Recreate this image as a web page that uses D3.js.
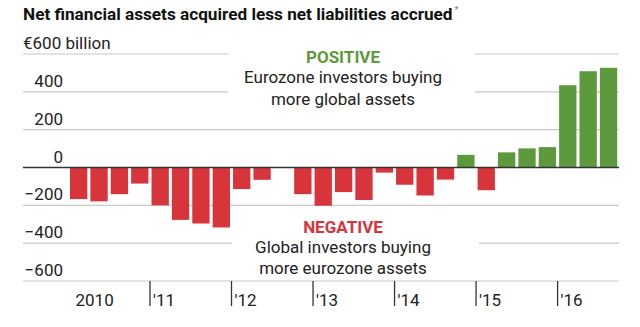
<!DOCTYPE html>
<html>
<head>
<meta charset="utf-8">
<script src="https://cdn.jsdelivr.net/npm/d3@7"></script>
<style>
  body { margin: 0; background: #fff; }
  #chart text { font-family: Roboto, "Open Sans", sans-serif; fill: #222; }
  #chart .title { font-family: "Liberation Sans Narrow", "Roboto", sans-serif; font-weight: bold; fill: #111; }
</style>
</head>
<body>
<div id="chart"></div>
<script>
// Quarterly net financial flows, € billion
const years = [2010, 2011, 2012, 2013, 2014, 2015, 2016];
const yearLabels = ["2010", "'11", "'12", "'13", "'14", "'15", "'16"];
const quarterValues = [
  -167, -179, -141, -85,   // 2010
  -200, -277, -296, -317,  // 2011
  -114, -65, 0, -141,      // 2012
  -202, -130, -172, -27,   // 2013
  -91, -148, -64, 67,      // 2014
  -120, 80, 101, 108,      // 2015
  435, 509, 527            // 2016
];
const yTicks = [600, 400, 200, 0, -200, -400, -600];

const quarters = quarterValues.map((v, i) => ({
  key: `${years[Math.floor(i / 4)]} Q${i % 4 + 1}`,
  year: years[Math.floor(i / 4)],
  q: i % 4 + 1,
  value: v
}));

const width = 640;
const height = 327;
const gridLeft = 23;
const gridRight = 619;

const red = "#d7343c";
const green = "#5c9a3d";

const svg = d3.select("#chart")
  .append("svg")
  .attr("width", width)
  .attr("height", height);

const x = d3.scaleBand()
  .domain(quarters.map(d => d.key))
  .range([70, 617.2])
  .paddingInner(0.15)
  .paddingOuter(0)
  .align(0);

const y = d3.scaleLinear()
  .domain([-600, 600])
  .range([281, 54]);

// Title with footnote marker right after it
const title = svg.append("text")
  .attr("class", "title")
  .attr("x", 23)
  .attr("y", 20)
  .style("font-size", "17.2px")
  .text("Net financial assets acquired less net liabilities accrued");
const titleEnd = 23 + title.node().getComputedTextLength();
svg.append("text")
  .attr("x", titleEnd + 2)
  .attr("y", 13)
  .style("font-size", "9px")
  .style("fill", "#777")
  .text("*");

// Gridlines
svg.append("g")
  .selectAll("line")
  .data(yTicks.filter(d => d !== 0))
  .join("line")
  .attr("x1", gridLeft)
  .attr("x2", gridRight)
  .attr("y1", d => y(d))
  .attr("y2", d => y(d))
  .attr("stroke", "#c8c8c8")
  .attr("stroke-width", 1.2);

// Y labels sit above their gridline
svg.append("g")
  .selectAll("text")
  .data(yTicks)
  .join("text")
  .attr("x", d => d === 600 ? gridLeft : 63)
  .attr("y", d => y(d) - 5)
  .attr("text-anchor", d => d === 600 ? "start" : "end")
  .style("font-size", "17px")
  .text(d => d === 600 ? "€600 billion" : (d < 0 ? "\u2212" + Math.abs(d) : d));

// Annotations, with white backing to break the gridlines
const notes = [
  { head: "POSITIVE", color: green, lines: ["Eurozone investors buying", "more global assets"], ys: [63, 83, 105], box: [228, 48, 247, 62] },
  { head: "NEGATIVE", color: red, lines: ["Global investors buying", "more eurozone assets"], ys: [233, 253, 274], box: [232, 214, 247, 62] }
];
notes.forEach(n => {
  svg.append("rect")
    .attr("x", n.box[0]).attr("y", n.box[1])
    .attr("width", n.box[2]).attr("height", n.box[3])
    .attr("fill", "#fff");
  svg.append("text")
    .attr("x", 343).attr("y", n.ys[0])
    .attr("text-anchor", "middle")
    .style("font-size", "17px")
    .style("font-weight", "bold")
    .style("fill", n.color)
    .text(n.head);
  n.lines.forEach((t, i) => {
    svg.append("text")
      .attr("x", 343).attr("y", n.ys[i + 1])
      .attr("text-anchor", "middle")
      .style("font-size", "17px")
      .text(t);
  });
});

// Bars
svg.append("g")
  .selectAll("rect")
  .data(quarters.filter(d => d.value !== 0))
  .join("rect")
  .attr("x", d => x(d.key))
  .attr("width", x.bandwidth())
  .attr("y", d => y(Math.max(0, d.value)))
  .attr("height", d => Math.abs(y(d.value) - y(0)))
  .attr("fill", d => d.value >= 0 ? green : red);

// Zero line
svg.append("line")
  .attr("x1", gridLeft)
  .attr("x2", gridRight)
  .attr("y1", y(0))
  .attr("y2", y(0))
  .attr("stroke", "#333")
  .attr("stroke-width", 1.5);

// Year ticks sit in the gap before each Q1 bar
const gap = x.step() - x.bandwidth();
const yearAxis = svg.append("g");
years.forEach((yr, i) => {
  const x0 = x(`${yr} Q1`) - gap / 2;
  if (i > 0) {
    yearAxis.append("line")
      .attr("x1", x0).attr("x2", x0)
      .attr("y1", y(-600)).attr("y2", 306)
      .attr("stroke", "#333")
      .attr("stroke-width", 1.3);
  }
  yearAxis.append("text")
    .attr("x", x0 + (i === 0 ? 7 : 3))
    .attr("y", 306)
    .style("font-size", "17px")
    .text(yearLabels[i]);
});
</script>
</body>
</html>
